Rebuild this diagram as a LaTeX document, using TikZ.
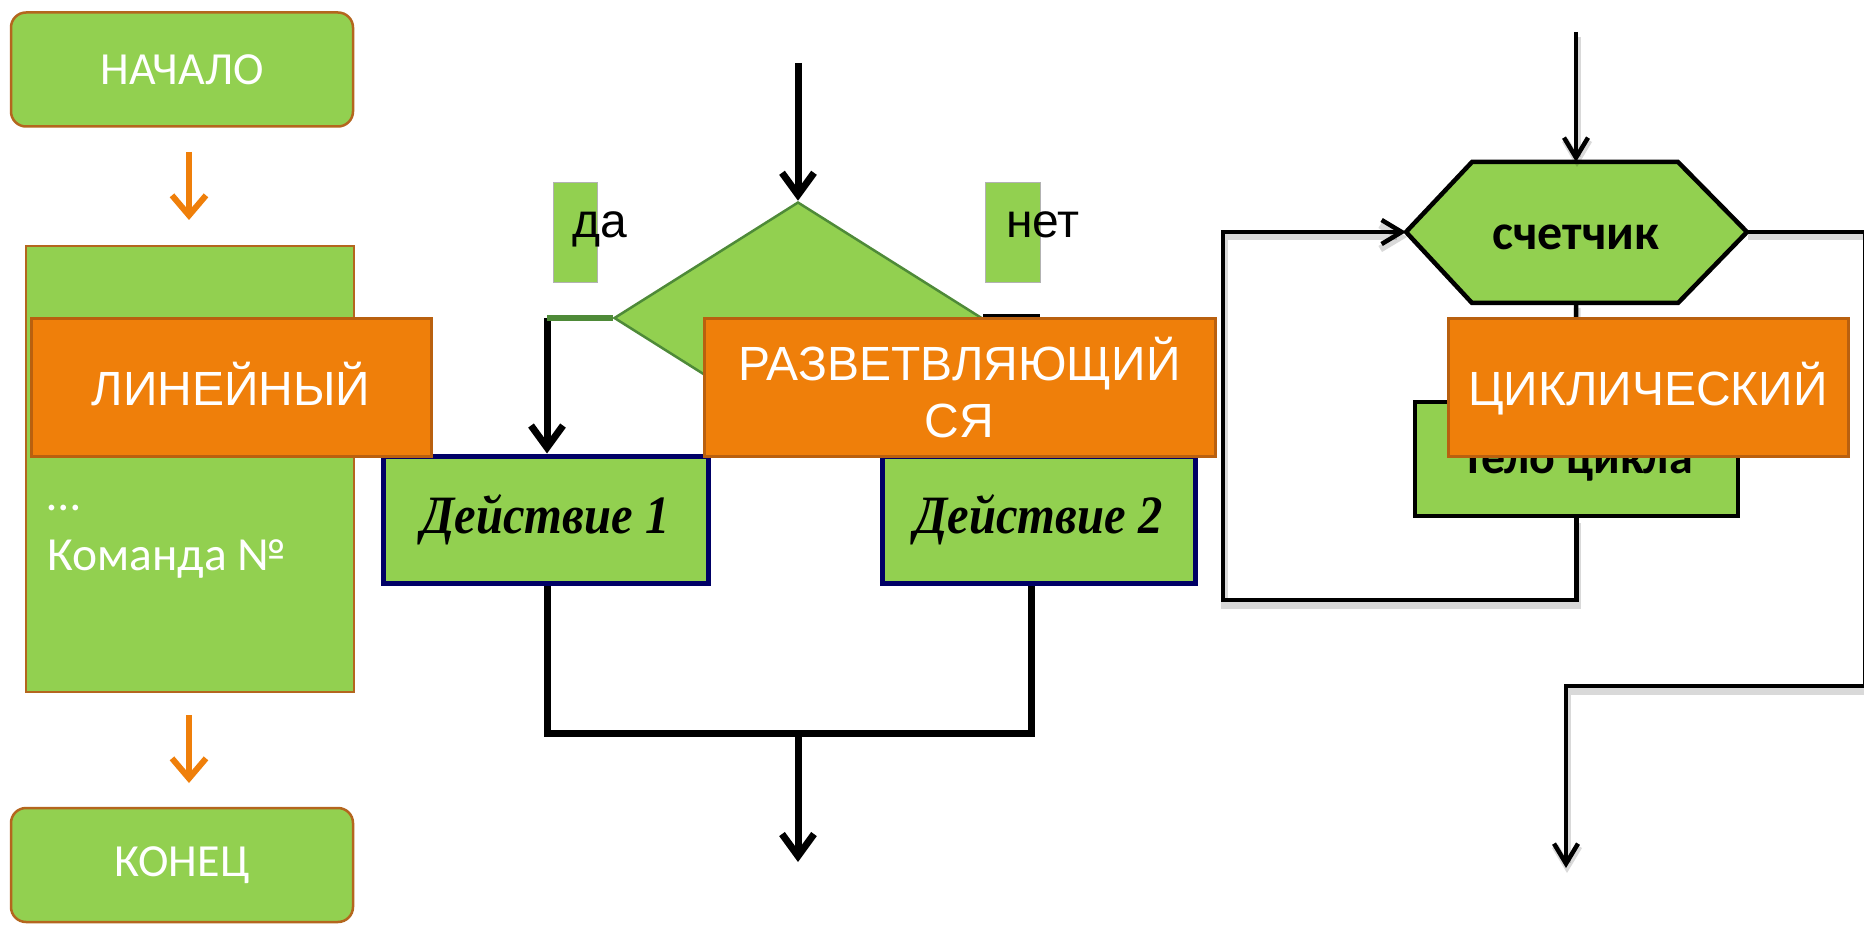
\documentclass[tikz,border=0pt]{standalone}
\usepackage{graphicx}
\usepackage{fontspec}
\newfontfamily\carl{Carlito}
\newfontfamily\arl{Liberation Sans}
\newfontfamily\tnr{Liberation Serif}
\usetikzlibrary{arrows.meta,shapes.geometric}
\definecolor{grn}{HTML}{92D050}
\definecolor{org}{HTML}{EF7F0A}
\definecolor{orgb}{HTML}{B9600F}
\definecolor{brn}{HTML}{B4661E}
\definecolor{dgrn}{HTML}{4E8A38}
\definecolor{navy}{HTML}{000066}
\begin{document}
\begin{tikzpicture}[x=1pt,y=-1pt,
 termbox/.style={rectangle,rounded corners=15pt,fill=grn,draw=brn,line width=2.5pt,minimum width=342pt,minimum height=114pt,inner sep=0pt,text=white,font=\carl\fontsize{46}{55}\selectfont},
 cmdbox/.style={rectangle,fill=grn,draw=brn,line width=2.5pt,inner sep=0pt},
 wtext/.style={text=white,font=\carl\fontsize{47.5}{56}\selectfont,inner sep=0pt},
 tagbox/.style={rectangle,fill=org,draw=orgb,line width=3pt,inner sep=0pt,minimum height=137pt,text=white,font=\arl\fontsize{48}{57}\selectfont,align=center},
 oarrow/.style={draw=org,line width=6pt,-{Straight Barb[length=20pt,width=34pt]}},
 bline/.style={draw=black,line width=7pt},
 barrow/.style={bline,-{Straight Barb[length=22pt,width=32pt]}},
 actbox/.style={rectangle,fill=grn,draw=navy,line width=5pt,inner sep=0pt,minimum height=127pt,font=\tnr\bfseries\itshape\fontsize{54}{62}\selectfont},
 lblbox/.style={rectangle,fill=grn,draw=black!30,line width=1pt,minimum width=44pt,minimum height=100pt,inner sep=0pt},
 lbltext/.style={anchor=base west,inner sep=0pt,font=\arl\fontsize{48}{57}\selectfont},
 cline/.style={draw=black,line width=4.5pt,preaction={draw=black,opacity=0.15,line width=7pt,transform canvas={shift={(1pt,-5pt)}}}},
 carrow/.style={cline,-{Straight Barb[length=20pt,width=24pt]}},
 cbox/.style={rectangle,fill=grn,draw=black,line width=4.5pt,inner sep=0pt},
 btext/.style={font=\carl\bfseries\fontsize{50}{58}\selectfont,inner sep=0pt}
]
\fill[white] (0,0) rectangle (1864,925);
\useasboundingbox (0,0) rectangle (1864,925);

% ---------- linear ----------
\node[termbox] (start) at (182,69.5) {НАЧАЛО};
\node[cmdbox,minimum width=328pt,minimum height=446pt] (cmds) at (190,469) {};
\node[wtext,anchor=west] (dots) at (47,508) {…};
\node[wtext,anchor=base west] (cmdn) at (47,570) {Команда №};
\node[termbox] (finish) at (182,865) {КОНЕЦ};
\coordinate (oa1) at (189,152);
\coordinate (oa2) at (189,220);
\coordinate (ob1) at (189,715);
\coordinate (ob2) at (189,783);
\draw[oarrow] (oa1) -- (oa2);
\draw[oarrow] (ob1) -- (ob2);

% ---------- branching ----------
\coordinate (bin) at (798,63);
\node[diamond,fill=grn,draw=dgrn,line width=2.5pt,minimum width=368pt,minimum height=232pt,inner sep=0pt] (cond) at (798,318) {};
\node[actbox,minimum width=325pt] (d1) at (545.5,519.5) {\scalebox{0.9}[1]{Действие 1}};
\node[actbox,minimum width=313pt] (d2) at (1038.5,519.5) {\scalebox{0.9}[1]{Действие 2}};
\coordinate (yes) at (547,318);
\coordinate (no) at (1036,318);
\draw[barrow] (bin) -- (cond.north);
\draw[barrow] (yes) -- (yes |- d1.north);
\draw[dgrn,line width=6pt] (cond.west) -- (yes);
\draw[barrow] (cond.east) -- (no) -- (no |- d2.north);
\coordinate (m1) at (547,733);
\coordinate (m2) at (1031,733);
\coordinate (mo) at (798,733);
\coordinate (bout) at (798,862);
\draw[bline] (m1 |- d1.south) -- (m1) -- (m2) -- (m2 |- d2.south);
\draw[barrow] (mo) -- (bout);
\node[lblbox] (dabox) at (575,233) {};
\node[lbltext] (da) at (572,238) {да};
\node[lblbox,minimum width=55pt] (netbox) at (1012.5,233) {};
\node[lbltext] (net) at (1006,238) {нет};

% ---------- cyclic ----------
\coordinate (cin) at (1576,32);
\coordinate (hL) at (1406,232);
\coordinate (hR) at (1747,232);
\coordinate (hT) at (1576,162);
\coordinate (hB) at (1576,303);
\filldraw[fill=grn,draw=black,line width=4.5pt,line join=miter] (hL) -- (1472,162) -- (1678,162) -- (hR) -- (1678,303) -- (1472,303) -- cycle;
\node[btext] (cnt) at (1576,237) {счетчик};
\node[cbox,minimum width=323pt,minimum height=114pt] (body) at (1576.5,459) {};
\node[btext,anchor=base,font=\carl\bfseries\fontsize{48}{56}\selectfont] (bodyt) at (1577,473) {Тело цикла};
\draw[cline] (hB) -- (body.north);
\draw[carrow] (cin) -- (hT);
\coordinate (lp) at (1223,600);
\draw[carrow] (body.south) -- (body.south |- lp) -- (lp) -- (lp |- hL) -- (hL);
\coordinate (ex1) at (1865,232);
\coordinate (ex2) at (1865,686);
\coordinate (ex3) at (1566,686);
\coordinate (cout) at (1566,868);
\draw[carrow] (hR) -- (ex1) -- (ex2) -- (ex3) -- (cout);

% ---------- tags ----------
\node[tagbox,minimum width=400pt,text height=35pt,text depth=0pt] (tLin) at (231,387.5) {ЛИНЕЙНЫЙ};
\node[tagbox,minimum width=511pt] (tBr) at (959.5,387.5) {РАЗВЕТВЛЯЮЩИЙ\\СЯ};
\node[tagbox,minimum width=400pt,text height=35pt,text depth=0pt] (tCyc) at (1648,387.5) {ЦИКЛИЧЕСКИЙ};
\end{tikzpicture}
\end{document}
